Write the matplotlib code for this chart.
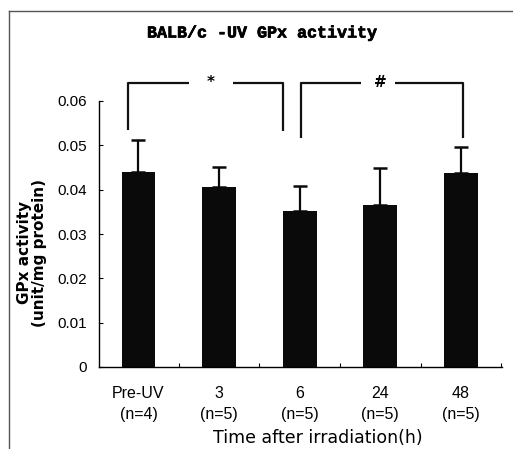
import matplotlib
matplotlib.use("Agg")
import matplotlib.pyplot as plt
import matplotlib.patheffects as pe
from matplotlib.lines import Line2D
import numpy as np

categories = ["Pre-UV\n(n=4)", "3\n(n=5)", "6\n(n=5)", "24\n(n=5)", "48\n(n=5)"]
means = [0.0439, 0.0407, 0.0351, 0.0366, 0.0437]
upper = [0.0512, 0.0451, 0.0409, 0.0448, 0.0497]
yticks = [0, 0.01, 0.02, 0.03, 0.04, 0.05, 0.06]
ytick_labels = ["0", "0.01", "0.02", "0.03", "0.04", "0.05", "0.06"]

fig = plt.figure(figsize=(5.13, 4.49), dpi=100)
ax = fig.add_axes([99/513, 1-367/449, 403/513, 266/449])

x = np.arange(len(categories))
err = [u - m for u, m in zip(upper, means)]
ax.bar(x, means, width=0.42, color="#0a0a0a", zorder=2)
ax.errorbar(x, means, yerr=[np.zeros(len(x)), err], fmt="none", ecolor="#0a0a0a",
            elinewidth=1.6, capsize=4.7, capthick=1.8, zorder=3)

ax.set_xlim(-0.49, 4.51)
ax.set_ylim(0, 0.06)
ax.set_yticks(yticks)
ax.set_yticklabels(ytick_labels, fontsize=11, family="Liberation Sans")
ax.set_xticks(x)
ax.set_xticklabels(categories, fontsize=11.5, family="Liberation Sans", linespacing=1.45)
ax.set_xticks(np.arange(0.5, 5.0, 1.0), minor=True)
ax.tick_params(axis="x", which="major", length=0, pad=14)
ax.tick_params(axis="x", which="minor", direction="in", length=3, width=0.8)
ax.tick_params(axis="y", direction="in", length=3, width=0.8, pad=9)
for s in ["top", "right"]:
    ax.spines[s].set_visible(False)
for s in ["left", "bottom"]:
    ax.spines[s].set_linewidth(1.0)

ax.set_xlabel("Time after irradiation(h)", fontsize=12.5, family="DejaVu Sans", labelpad=5)
ax.xaxis.label.set_x(0.543)
ax.set_ylabel("GPx activity\n(unit/mg protein)", fontsize=11, family="DejaVu Sans",
              fontweight="bold", linespacing=0.95)
ax.yaxis.set_label_coords(-0.13, 0.43)

# significance brackets
def bracket(x0, x1, ytop, y0, y1, gap0, gap1, sym, symx):
    kw = dict(color="#111111", lw=1.6, clip_on=False, solid_capstyle="butt")
    ax.plot([x0, x0, gap0], [y0, ytop, ytop], **kw)
    ax.plot([gap1, x1, x1], [ytop, ytop, y1], **kw)
    ax.text(symx, ytop, sym, ha="center", va="center", fontsize=11, fontweight="bold",
            family="DejaVu Sans")

bracket(-0.127, 1.795, 0.0641, 0.0535, 0.0533, 0.63, 1.17, "*", 0.90)
bracket(2.02, 4.03, 0.0641, 0.0517, 0.0517, 2.76, 3.18, "#", 3.0)

fig.text(262/513, 1-33/449, "BALB/c -UV GPx activity", ha="center", va="center",
         fontsize=12, fontweight="bold", family="Liberation Mono",
         path_effects=[pe.withStroke(linewidth=0.5, foreground="black")])

# scanned frame lines
fig.add_artist(Line2D([9/513, 9/513], [0, 1-11/449], transform=fig.transFigure,
                      color="#555555", lw=1.0))
fig.add_artist(Line2D([9/513, 1], [1-11/449, 1-11/449], transform=fig.transFigure,
                      color="#555555", lw=1.0))

fig.savefig("out.png", dpi=100)
